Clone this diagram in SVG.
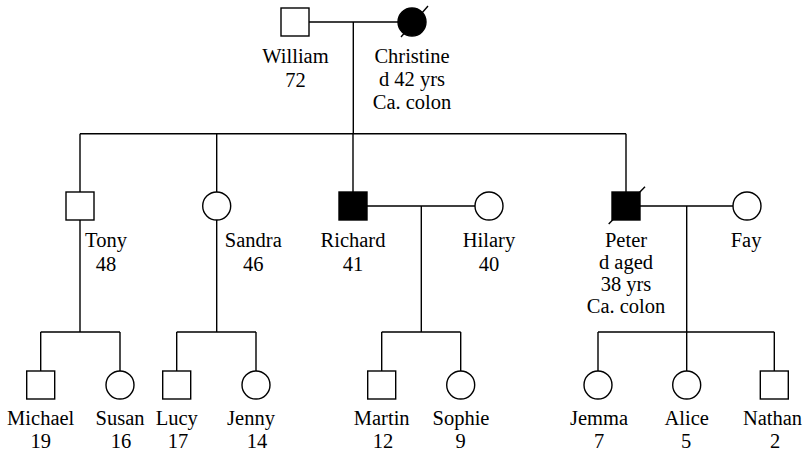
<svg xmlns="http://www.w3.org/2000/svg" width="809" height="452" viewBox="0 0 809 452" font-family="Liberation Serif, Times New Roman, DejaVu Serif, serif">
<style>
.ln{fill:none;stroke:#000;stroke-width:1.4}
.m{fill:#fff;stroke:#000;stroke-width:1.4}
.a{fill:#000;stroke:#000;stroke-width:1.4}
text{font-size:20.5px;fill:#000;text-anchor:middle}
</style>
<rect width="809" height="452" fill="#fff"/>
<g id="connectors" class="ln">
<path d="M309,22H398M353.3,22V133.7M80,133.7H626M80,133.7V332M216.7,133.7V332M353,133.7V192M626,133.7V192"/>
<path d="M367,206H475M421.3,206V332M381.7,332H460.7M381.7,332V371M460.7,332V371"/>
<path d="M640,206H733M686.7,206V371M598,332H774.3M598,332V371M774.3,332V371"/>
<path d="M40.7,332H120M40.7,332V371M120,332V371M176.7,332H256M176.7,332V371M256,332V371"/>
</g>
<g id="william"><rect class="m" x="281" y="8" width="28" height="28"/><text x="295.5" y="63">William</text><text x="295.5" y="87">72</text></g>
<g id="christine"><circle class="a" cx="412" cy="22" r="14"/><path class="ln" d="M401,37L428,6"/><text x="412" y="63">Christine</text><text x="412" y="86">d 42 yrs</text><text x="412" y="109">Ca. colon</text></g>
<g id="tony"><rect class="m" x="66" y="192" width="28" height="28"/><text x="106" y="247">Tony</text><text x="106" y="271">48</text></g>
<g id="sandra"><circle class="m" cx="216.7" cy="206" r="14"/><text x="253.3" y="247">Sandra</text><text x="253.3" y="271">46</text></g>
<g id="richard"><rect class="a" x="339" y="192" width="28" height="28"/><text x="353" y="247">Richard</text><text x="353" y="271">41</text></g>
<g id="hilary"><circle class="m" cx="489" cy="206" r="14"/><text x="489" y="247">Hilary</text><text x="489" y="271">40</text></g>
<g id="peter"><rect class="a" x="612" y="192" width="28" height="28"/><path class="ln" d="M608.7,224L645,186.7"/><text x="626" y="247">Peter</text><text x="626" y="269">d aged</text><text x="626" y="291">38 yrs</text><text x="626" y="313">Ca. colon</text></g>
<g id="fay"><circle class="m" cx="747" cy="206" r="14"/><text x="746" y="247">Fay</text></g>
<g id="michael"><rect class="m" x="26.7" y="371" width="28" height="28"/><text x="40.7" y="425">Michael</text><text x="40.7" y="448">19</text></g>
<g id="susan"><circle class="m" cx="120" cy="385" r="14"/><text x="120" y="425">Susan</text><text x="121" y="448">16</text></g>
<g id="lucy"><rect class="m" x="162.7" y="371" width="28" height="28"/><text x="176.7" y="425">Lucy</text><text x="178" y="448">17</text></g>
<g id="jenny"><circle class="m" cx="256" cy="385" r="14"/><text x="251" y="425">Jenny</text><text x="257" y="448">14</text></g>
<g id="martin"><rect class="m" x="367.7" y="371" width="28" height="28"/><text x="381.7" y="425">Martin</text><text x="383" y="448">12</text></g>
<g id="sophie"><circle class="m" cx="460.7" cy="385" r="14"/><text x="461" y="425">Sophie</text><text x="460.7" y="448">9</text></g>
<g id="jemma"><circle class="m" cx="598" cy="385" r="14"/><text x="599" y="425">Jemma</text><text x="599" y="448">7</text></g>
<g id="alice"><circle class="m" cx="686.7" cy="385" r="14"/><text x="686.7" y="425">Alice</text><text x="686" y="448">5</text></g>
<g id="nathan"><rect class="m" x="760.3" y="371" width="28" height="28"/><text x="772.5" y="425">Nathan</text><text x="775" y="448">2</text></g>
</svg>
